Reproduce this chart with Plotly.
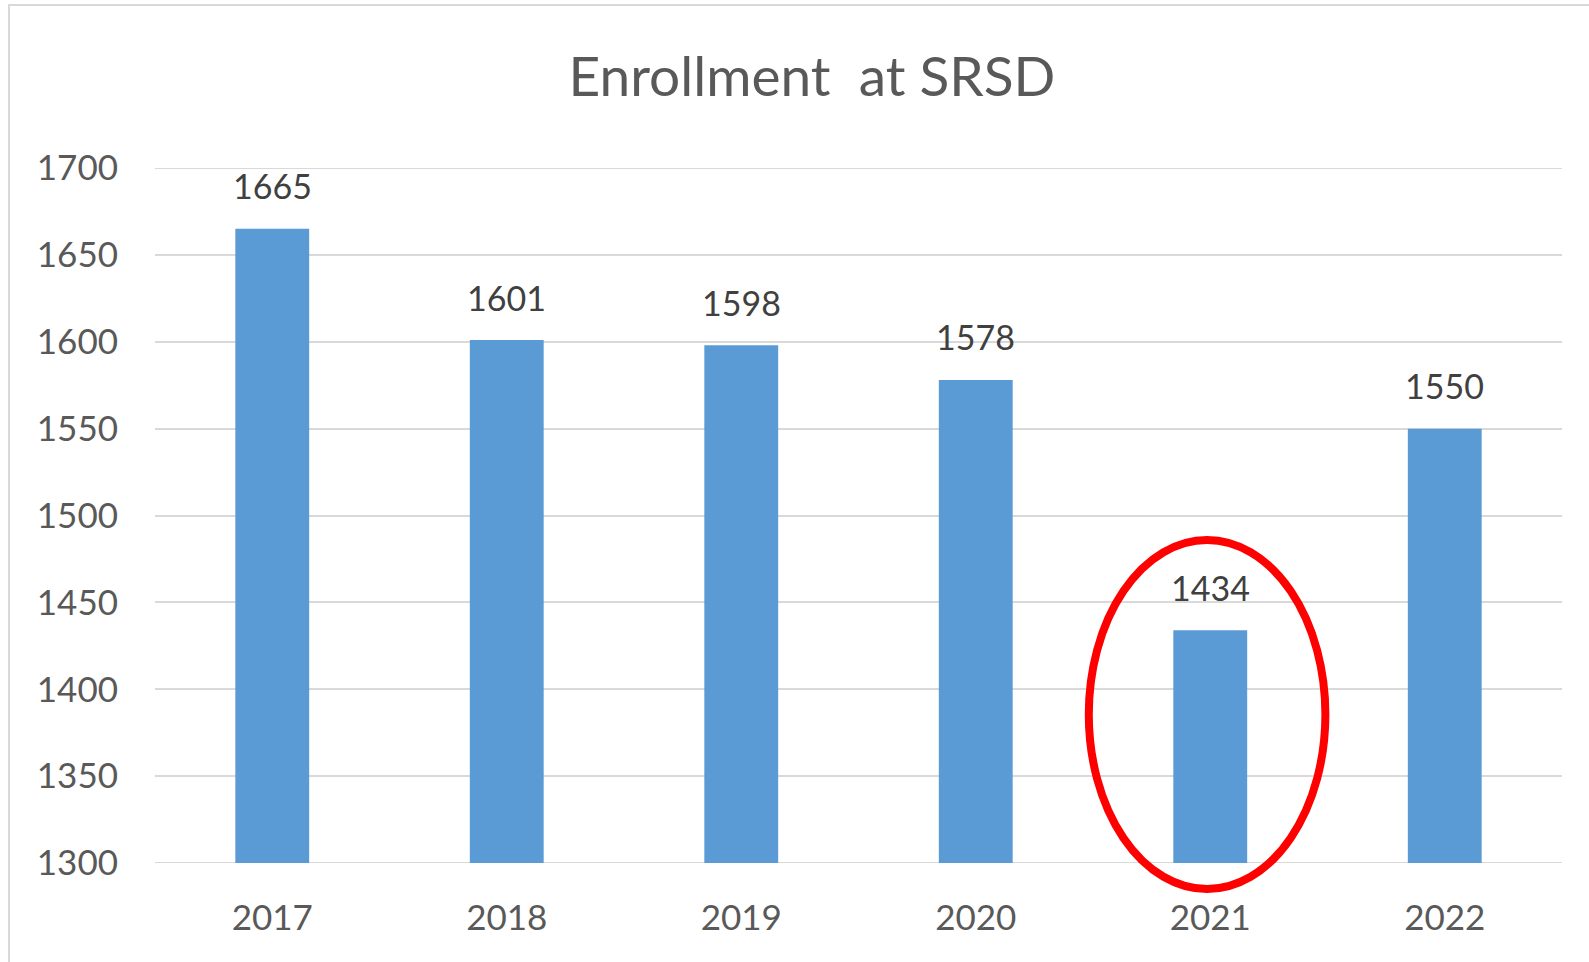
import plotly.graph_objects as go

# ---- data ----
years = ["2017", "2018", "2019", "2020", "2021", "2022"]
enrollment = [1665, 1601, 1598, 1578, 1434, 1550]
y_ticks = [1300, 1350, 1400, 1450, 1500, 1550, 1600, 1650, 1700]
highlight_year = "2021"

# ---- layout constants (pixels) ----
W, H = 1589, 962
L, R, T, B = 155, 27, 168, 99
plot_w = W - L - R
plot_h = H - T - B
y_min, y_max = 1300, 1700

FONT = "Lato, Carlito, Calibri, 'Open Sans', sans-serif"

fig = go.Figure()
fig.add_trace(go.Bar(
    x=years,
    y=enrollment,
    marker=dict(color="#5B9BD5", line=dict(width=0)),
    cliponaxis=False,
    width=0.315,
    hoverinfo="x+y",
))

# value labels above bars (category index positions)
for i, v in enumerate(enrollment):
    fig.add_annotation(x=i, y=v, xref="x", yref="y", text=str(v), showarrow=False,
                       xanchor="center", yanchor="middle", yshift=43,
                       font=dict(family=FONT, size=34, color="#404040"))


def px_to_paper_x(px):
    return (px - L) / plot_w


def px_to_paper_y(py):
    return (T + plot_h - py) / plot_h


# red ellipse around the highlighted bar (paper coords so it is not clipped)
hi = years.index(highlight_year)
cat_w = 1.0 / len(years)
cx = (hi + 0.5) * cat_w
fig.add_shape(type="circle", xref="paper", yref="paper",
              x0=cx - 0.518 * cat_w, x1=cx + 0.491 * cat_w,
              y0=px_to_paper_y(889), y1=px_to_paper_y(540),
              line=dict(color="#FF0000", width=8), layer="above")

# outer chart border (left + top visible)
fig.add_shape(type="rect", xref="paper", yref="paper",
              x0=px_to_paper_x(9), x1=px_to_paper_x(W + 20),
              y0=px_to_paper_y(H + 20), y1=px_to_paper_y(5),
              line=dict(color="#D9D9D9", width=2), fillcolor="rgba(0,0,0,0)", layer="below")

# grid lines at the range ends (1300 and 1700)
for gv in (y_min, y_max):
    fig.add_shape(type="line", xref="paper", yref="y", x0=0, x1=1, y0=gv, y1=gv,
                  line=dict(color="#D9D9D9", width=2), layer="below")

fig.update_layout(
    width=W, height=H,
    margin=dict(l=L, r=R, t=T, b=B, pad=0),
    paper_bgcolor="white",
    plot_bgcolor="white",
    showlegend=False,
    title=dict(text="Enrollment  at SRSD", x=812 / W, xanchor="center",
               y=1 - 77 / H, yanchor="middle",
               font=dict(family=FONT, size=55, color="#595959")),
    xaxis=dict(
        type="category",
        categoryorder="array", categoryarray=years,
        range=[-0.5, len(years) - 0.5],
        showgrid=False, zeroline=False, showline=False,
        ticks="", ticklabelstandoff=31,
        tickfont=dict(family=FONT, size=35, color="#595959"),
    ),
    yaxis=dict(
        range=[y_min, y_max],
        tickvals=y_ticks,
        ticktext=[str(v) for v in y_ticks],
        showgrid=True, gridcolor="#D9D9D9", gridwidth=2,
        zeroline=False, showline=False,
        ticks="", ticklabelstandoff=36,
        tickfont=dict(family=FONT, size=35, color="#595959"),
    ),
)

fig.write_html("out.html",
               config={"displayModeBar": False},
               post_script="document.body.style.margin='0px';document.body.style.overflow='hidden';")
